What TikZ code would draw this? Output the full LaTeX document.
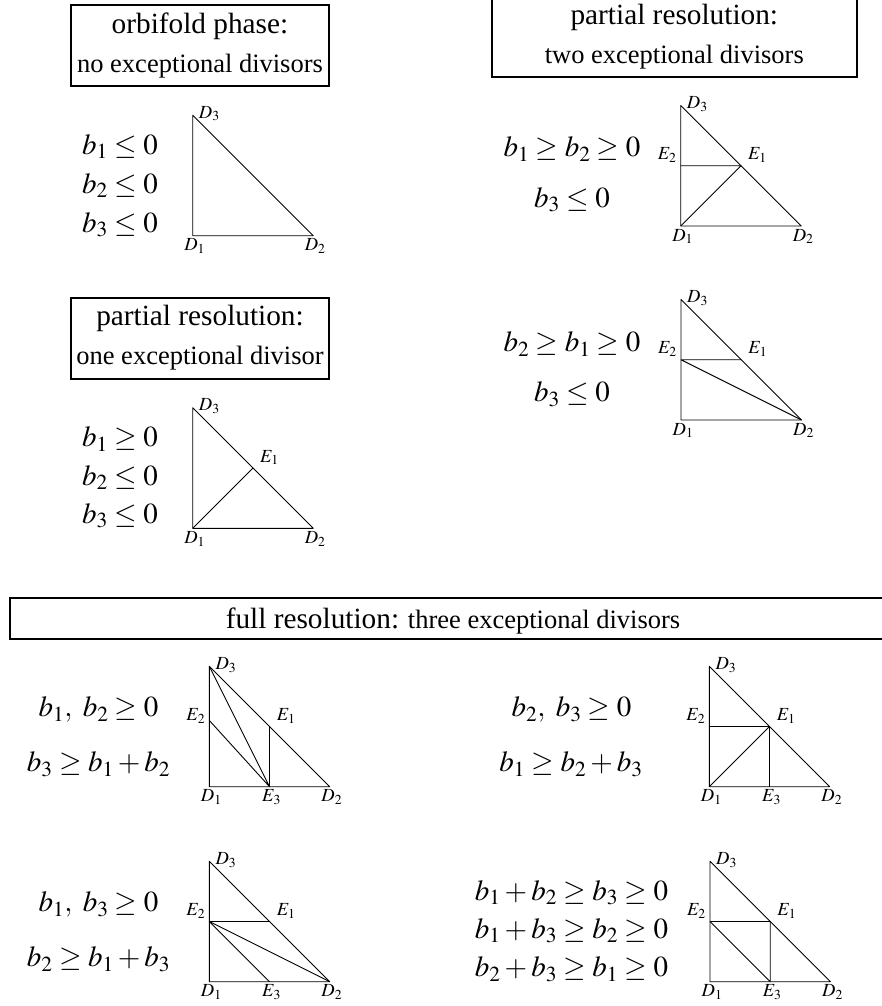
\documentclass[tikz,border=0pt]{standalone}
\usepackage{mathptmx}
\usepackage{fontspec}
\setmainfont{Liberation Serif}
\usetikzlibrary{calc}
\tikzset{
  phasebox/.style={draw,line width=2pt,inner sep=0pt,align=center,minimum height=81pt,
    font=\fontsize{26.5}{39}\selectfont},
  cond/.style={anchor=base,inner sep=0pt,font=\fontsize{29}{34}\selectfont},
  vlab/.style={inner sep=0pt,font=\fontsize{18.5}{20}\selectfont},
  botlab/.style={vlab,anchor=base,xshift=2pt,yshift=-15pt},
  toplab/.style={vlab,anchor=base west,xshift=6pt,yshift=-3pt},
  rightlab/.style={vlab,anchor=base west,xshift=7pt,yshift=6pt},
  leftlab/.style={vlab,anchor=base east,xshift=-4pt,yshift=6pt},
  divline/.style={line width=0.9pt,line join=round}
}
\newcommand{\bigline}[1]{{\fontsize{29.3}{39}\selectfont #1}}
% #1 name, #2 #3 position of D1
\newcommand{\divtri}[3]{%
  \coordinate (#1D1) at (#2,#3);
  \coordinate (#1D2) at (#2+120.5,#3);
  \coordinate (#1D3) at (#2,#3-120.5);
  \draw[divline] (#1D1) -- (#1D2) -- (#1D3) -- cycle;
  \node[botlab] (#1d1) at (#1D1) {$D_1$};
  \node[botlab] (#1d2) at (#1D2) {$D_2$};
  \node[toplab] (#1d3) at (#1D3) {$D_3$};
}

\begin{document}
\begin{tikzpicture}[x=1pt,y=-1pt]
  \useasboundingbox (0,0) rectangle (882,1006);
  \clip (0,0) rectangle (882,1006);

  % headings
  \node[phasebox,minimum width=258pt] (orb) at (200,45.5)
    {\bigline{orbifold phase:}\\no exceptional divisors};
  \node[phasebox,minimum width=365.3pt] (two) at (674.3,36.8)
    {\bigline{partial resolution:}\\two exceptional divisors};
  \node[phasebox,minimum width=258pt] (one) at (200,338)
    {\bigline{partial resolution:}\\one exceptional divisor};
  \node[phasebox,minimum width=886pt,minimum height=0pt,text height=30.3pt,
    text depth=11pt,anchor=base] (full) at (453,628)
    {\bigline{full resolution:} three exceptional divisors};

  % orbifold phase
  \node[cond] (a1) at (120,154) {$b_1\le 0$};
  \node[cond] (a2) at (120,193) {$b_2\le 0$};
  \node[cond] (a3) at (120,232) {$b_3\le 0$};
  \divtri{a}{192.7}{235.7}

  % one exceptional divisor
  \node[cond] (c1) at (120,446.7) {$b_1\ge 0$};
  \node[cond] (c2) at (120,485) {$b_2\le 0$};
  \node[cond] (c3) at (120,523.3) {$b_3\le 0$};
  \divtri{c}{192.7}{528.3}
  \coordinate (cE1) at ($(cD2)!.5!(cD3)$);
  \draw[divline] (cD1) -- (cE1);
  \node[rightlab] (ce1) at (cE1) {$E_1$};

  % two exceptional divisors
  \node[cond] (b1) at (572,157) {$b_1\ge b_2\ge 0$};
  \node[cond] (b2) at (572,207) {$b_3\le 0$};
  \divtri{b}{680.7}{226}
  \coordinate (bE1) at ($(bD2)!.5!(bD3)$);
  \coordinate (bE2) at ($(bD1)!.5!(bD3)$);
  \draw[divline] (bE2) -- (bE1) -- (bD1);
  \node[rightlab] (be1) at (bE1) {$E_1$};
  \node[leftlab] (be2) at (bE2) {$E_2$};

  \node[cond] (d1) at (572,351.7) {$b_2\ge b_1\ge 0$};
  \node[cond] (d2) at (572,401.7) {$b_3\le 0$};
  \divtri{d}{681}{420}
  \coordinate (dE1) at ($(dD2)!.5!(dD3)$);
  \coordinate (dE2) at ($(dD1)!.5!(dD3)$);
  \draw[divline] (dE1) -- (dE2) -- (dD2);
  \node[rightlab] (de1) at (dE1) {$E_1$};
  \node[leftlab] (de2) at (dE2) {$E_2$};

  % full resolution
  \node[cond] (e1) at (98.5,716.7) {$b_1,\ b_2\ge 0$};
  \node[cond] (e2) at (98.5,771.7) {$b_3\ge b_1+b_2$};
  \divtri{e}{209.3}{786.7}
  \coordinate (eE1) at ($(eD2)!.5!(eD3)$);
  \coordinate (eE2) at ($(eD1)!.55!(eD3)$);
  \coordinate (eE3) at ($(eD1)!.5!(eD2)$);
  \draw[divline] (eD3) -- (eE3) -- (eE2);
  \draw[divline] (eE1) -- (eE3);
  \node[rightlab] (ee1) at (eE1) {$E_1$};
  \node[leftlab] (ee2) at ($(eD1)!.5!(eD3)$) {$E_2$};
  \node[botlab] (ee3) at (eE3) {$E_3$};

  \node[cond] (f1) at (571.5,716.7) {$b_2,\ b_3\ge 0$};
  \node[cond] (f2) at (571,771.7) {$b_1\ge b_2+b_3$};
  \divtri{f}{709.3}{786.7}
  \coordinate (fE1) at ($(fD2)!.5!(fD3)$);
  \coordinate (fE2) at ($(fD1)!.5!(fD3)$);
  \coordinate (fE3) at ($(fD1)!.5!(fD2)$);
  \draw[divline] (fE2) -- (fE1) -- (fD1);
  \draw[divline] (fE1) -- (fE3);
  \node[rightlab] (fe1) at (fE1) {$E_1$};
  \node[leftlab] (fe2) at (fE2) {$E_2$};
  \node[botlab] (fe3) at (fE3) {$E_3$};

  \node[cond] (g1) at (98.5,911.7) {$b_1,\ b_3\ge 0$};
  \node[cond] (g2) at (98.5,966.7) {$b_2\ge b_1+b_3$};
  \divtri{g}{209.3}{981.7}
  \coordinate (gE1) at ($(gD2)!.5!(gD3)$);
  \coordinate (gE2) at ($(gD1)!.5!(gD3)$);
  \coordinate (gE3) at ($(gD1)!.5!(gD2)$);
  \draw[divline] (gE1) -- (gE2) -- (gD2);
  \draw[divline] (gE2) -- (gE3);
  \node[rightlab] (ge1) at (gE1) {$E_1$};
  \node[leftlab] (ge2) at (gE2) {$E_2$};
  \node[botlab] (ge3) at (gE3) {$E_3$};

  \node[cond] (h1) at (571.5,900) {$b_1+b_2\ge b_3\ge 0$};
  \node[cond] (h2) at (571.5,938.3) {$b_1+b_3\ge b_2\ge 0$};
  \node[cond] (h3) at (571.5,976.7) {$b_2+b_3\ge b_1\ge 0$};
  \divtri{h}{710}{981.7}
  \coordinate (hE1) at ($(hD2)!.5!(hD3)$);
  \coordinate (hE2) at ($(hD1)!.5!(hD3)$);
  \coordinate (hE3) at ($(hD1)!.5!(hD2)$);
  \draw[divline] (hE2) -- (hE1) -- (hE3) -- (hE2);
  \node[rightlab] (he1) at (hE1) {$E_1$};
  \node[leftlab] (he2) at (hE2) {$E_2$};
  \node[botlab] (he3) at (hE3) {$E_3$};
\end{tikzpicture}
\end{document}
